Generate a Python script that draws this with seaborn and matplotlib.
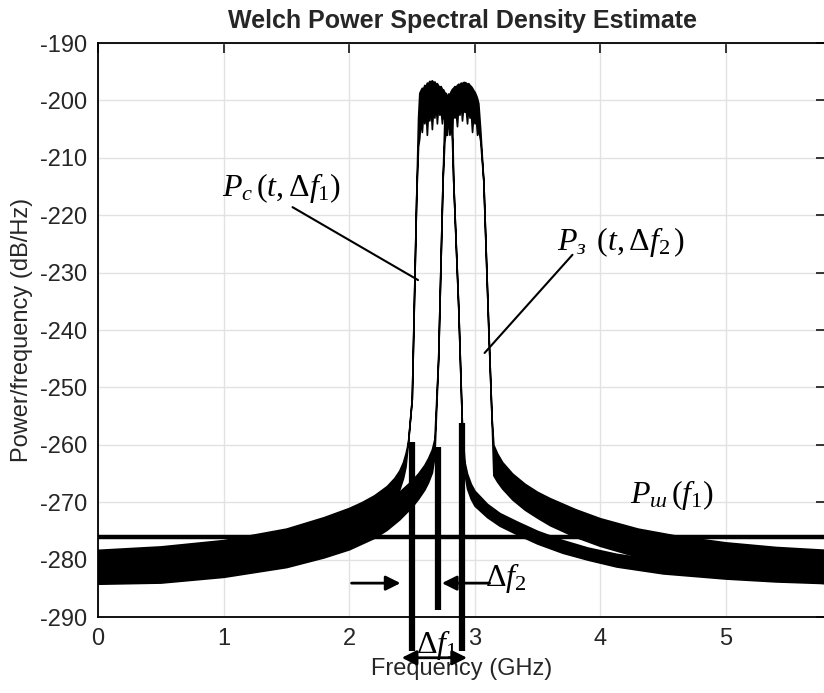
import matplotlib
matplotlib.use('Agg')
import matplotlib.pyplot as plt
import seaborn as sns

# ── Data (GHz, dB/Hz) ────────────────────────────────────────────────
# P_c(t, df1): left spectrum, outline as upper / lower envelope
freq_c = [0.0, 0.5, 1.0, 1.5, 1.8, 2.0, 2.1, 2.2, 2.3, 2.36, 2.4, 2.43, 2.45, 2.47, 2.50, 2.535,
          2.55, 2.56, 2.57, 2.58, 2.59, 2.60, 2.61, 2.62, 2.63, 2.64, 2.65,
          2.66, 2.67, 2.68, 2.69, 2.70, 2.71, 2.72, 2.73, 2.74, 2.75, 2.76,
          2.77, 2.78, 2.79, 2.80, 2.81, 2.82, 2.83, 2.87, 2.90, 2.92, 2.94,
          2.97, 3.0, 3.1, 3.2, 3.34, 3.5, 3.7, 3.9, 4.13, 4.5, 5.0, 5.4, 5.8]
upper_c = [-278.3, -277.7, -276.6, -274.6, -272.6, -271.0, -270.0, -268.8, -267.2, -265.8, -264.5, -263.0, -261.5, -259.5, -252.0, -217.0,
           -203.0, -198.7, -198.2, -197.8, -197.9, -197.3, -197.5, -196.9, -197.0, -196.6, -196.7,
           -196.5, -196.8, -196.7, -197.1, -197.0, -197.4, -197.6, -197.5, -198.0, -198.1, -198.6,
           -198.7, -199.2, -199.3, -199.8, -200.5, -202.0, -214.0, -236.0, -257.0, -263.0, -265.0,
           -266.8, -268.0, -270.3, -271.9, -273.4, -275.0, -276.6, -277.9, -279.0, -280.2, -281.0, -281.4, -281.6]
lower_c = [-283.5, -283.0, -282.0, -280.0, -278.2, -276.6, -275.4, -273.8, -271.6, -269.6, -267.8, -265.8, -263.8, -259.5, -252.0, -217.0,
           -208.0, -206.5, -203.0, -205.5, -202.5, -204.0, -201.5, -206.0, -202.0, -203.5, -201.0,
           -205.0, -201.5, -203.0, -200.5, -204.0, -201.0, -202.5, -201.5, -204.0, -202.0, -203.5,
           -202.0, -205.0, -203.0, -206.0, -204.0, -207.0, -214.0, -236.0, -257.0, -265.0, -267.6,
           -269.4, -270.6, -272.6, -274.1, -275.6, -277.2, -278.8, -280.0, -281.2, -282.4, -283.3, -283.8, -284.1]

# P_з(t, df2): right spectrum
freq_z = [0.0, 0.5, 1.0, 1.5, 1.8, 2.0, 2.2, 2.3, 2.4, 2.5, 2.55, 2.6, 2.63, 2.66, 2.68, 2.71, 2.745,
          2.76, 2.77, 2.78, 2.79, 2.80, 2.81, 2.82, 2.83, 2.84, 2.85, 2.86, 2.87,
          2.88, 2.89, 2.90, 2.91, 2.92, 2.93, 2.94, 2.95, 2.96, 2.97, 2.98, 2.99,
          3.00, 3.01, 3.02, 3.03, 3.045, 3.07, 3.11, 3.135, 3.15, 3.18, 3.22, 3.3,
          3.4, 3.5, 3.6, 3.8, 4.0, 4.3, 4.6, 5.0, 5.4, 5.8]
upper_z = [-279.0, -278.6, -277.6, -276.0, -274.4, -273.0, -271.0, -269.7, -268.2, -266.2, -265.0, -263.5, -262.3, -260.8, -259.0, -245.0, -214.0,
           -203.0, -200.5, -199.3, -198.8, -198.9, -198.4, -198.0, -197.8, -197.5, -197.6, -197.3, -197.1,
           -197.2, -196.9, -197.0, -196.8, -196.8, -196.9, -197.1, -197.0, -197.3, -197.5, -197.8, -198.2,
           -198.5, -199.0, -199.6, -200.5, -205.0, -214.0, -240.0, -255.0, -260.0, -261.5, -263.0, -265.0,
           -266.8, -268.2, -269.3, -271.2, -272.8, -274.6, -275.8, -277.0, -277.8, -278.3]
lower_z = [-284.2, -284.0, -283.0, -281.3, -279.6, -278.2, -276.2, -274.8, -273.0, -270.8, -269.4, -267.8, -266.5, -264.8, -262.0, -245.0, -214.0,
           -207.0, -205.5, -206.0, -203.0, -204.5, -202.0, -205.0, -201.5, -203.0, -202.0, -204.5, -201.0,
           -202.5, -200.5, -203.5, -201.0, -202.0, -201.5, -204.0, -201.0, -203.0, -202.0, -205.5, -202.5,
           -204.0, -203.0, -206.0, -205.0, -207.0, -214.0, -240.0, -255.0, -265.3, -266.4, -267.6, -269.5,
           -271.3, -272.7, -274.0, -276.0, -277.6, -279.5, -280.9, -282.3, -283.4, -284.1]

# P_ш(f1): noise level
noise_level = -276.1

# Δf markers (vertical bars)
bar_freq = [2.50, 2.71, 2.90]
bar_top = [-259.5, -260.4, -256.2]
bar_bottom = [-296.0, -288.8, -296.0]

x_ticks = [0, 1, 2, 3, 4, 5]
y_ticks = [-290, -280, -270, -260, -250, -240, -230, -220, -210, -200, -190]

# ── Style ─────────────────────────────────────────────────────────────
sns.set_style('white')
plt.rcParams['font.family'] = ['Liberation Sans', 'DejaVu Sans']
plt.rcParams['axes.unicode_minus'] = False
plt.rcParams['mathtext.fontset'] = 'custom'
plt.rcParams['mathtext.rm'] = 'Liberation Serif'
plt.rcParams['mathtext.it'] = 'Liberation Serif:italic'
plt.rcParams['mathtext.bf'] = 'Liberation Serif:bold'

fig = plt.figure(figsize=(8.24, 6.93), dpi=100)
ax = fig.add_axes([98 / 824, 76 / 693, 728 / 824, 574 / 693])

# ── Spectra ───────────────────────────────────────────────────────────
ax.fill_between(freq_c, lower_c, upper_c, color='black', lw=1.2, edgecolor='black')
ax.fill_between(freq_z, lower_z, upper_z, color='black', lw=1.2, edgecolor='black')

sns.lineplot(x=[0, 5.8], y=[noise_level, noise_level], ax=ax, color='black', lw=3.2)

ax.vlines(bar_freq, bar_bottom, bar_top, colors='black', lw=4.5, clip_on=False)

# ── Annotations ───────────────────────────────────────────────────────
txt_kw = dict(fontsize=23, color='black', va='center', ha='left')
ax.text(0.99, -215.3, r'$P_c\,(t,\Delta f_1)$', **txt_kw)
ax.text(3.66, -224.7, r'$P_з\;\,(t,\Delta f_2\,)$', **txt_kw)
ax.text(4.24, -268.7, r'$P_ш\,(f_1)$', **txt_kw)
ax.text(3.08, -283.2, r'$\Delta f_2$', **txt_kw)
ax.text(2.53, -294.9, r'$\Delta f_1$', clip_on=False, **txt_kw)

ax.plot([1.55, 2.55], [-218.6, -231.3], color='black', lw=1.5)
ax.plot([3.78, 3.08], [-226.9, -244.0], color='black', lw=1.5)

arrow_kw = dict(arrowstyle='-|>', color='black', lw=2, mutation_scale=22, shrinkA=0, shrinkB=0)
ax.annotate('', xy=(2.41, -284.1), xytext=(2.02, -284.1), arrowprops=arrow_kw, annotation_clip=False)
ax.annotate('', xy=(2.74, -284.1), xytext=(3.12, -284.1), arrowprops=arrow_kw, annotation_clip=False)
ax.annotate('', xy=(2.42, -297.1), xytext=(2.94, -297.1),
            arrowprops=dict(arrowstyle='<|-|>', color='black', lw=2, mutation_scale=22, shrinkA=0, shrinkB=0),
            annotation_clip=False)

# ── Axes ──────────────────────────────────────────────────────────────
ax.set_xlim(0, 5.8)
ax.set_ylim(-290, -190)
ax.set_xticks(x_ticks)
ax.set_yticks(y_ticks)
ax.grid(True, color='#e2e2e2', lw=1)
ax.set_axisbelow(True)
ax.tick_params(direction='in', top=True, right=True, length=7, width=1.3,
               labelsize=17, pad=8)
for s in ax.spines.values():
    s.set_linewidth(1.3)
    s.set_color('black')

ax.set_title('Welch Power Spectral Density Estimate', fontsize=18, fontweight='bold', pad=11)
ax.set_xlabel('Frequency (GHz)', fontsize=17, labelpad=6)
ax.set_ylabel('Power/frequency (dB/Hz)', fontsize=17, labelpad=5)

fig.savefig('out.png', dpi=100)
